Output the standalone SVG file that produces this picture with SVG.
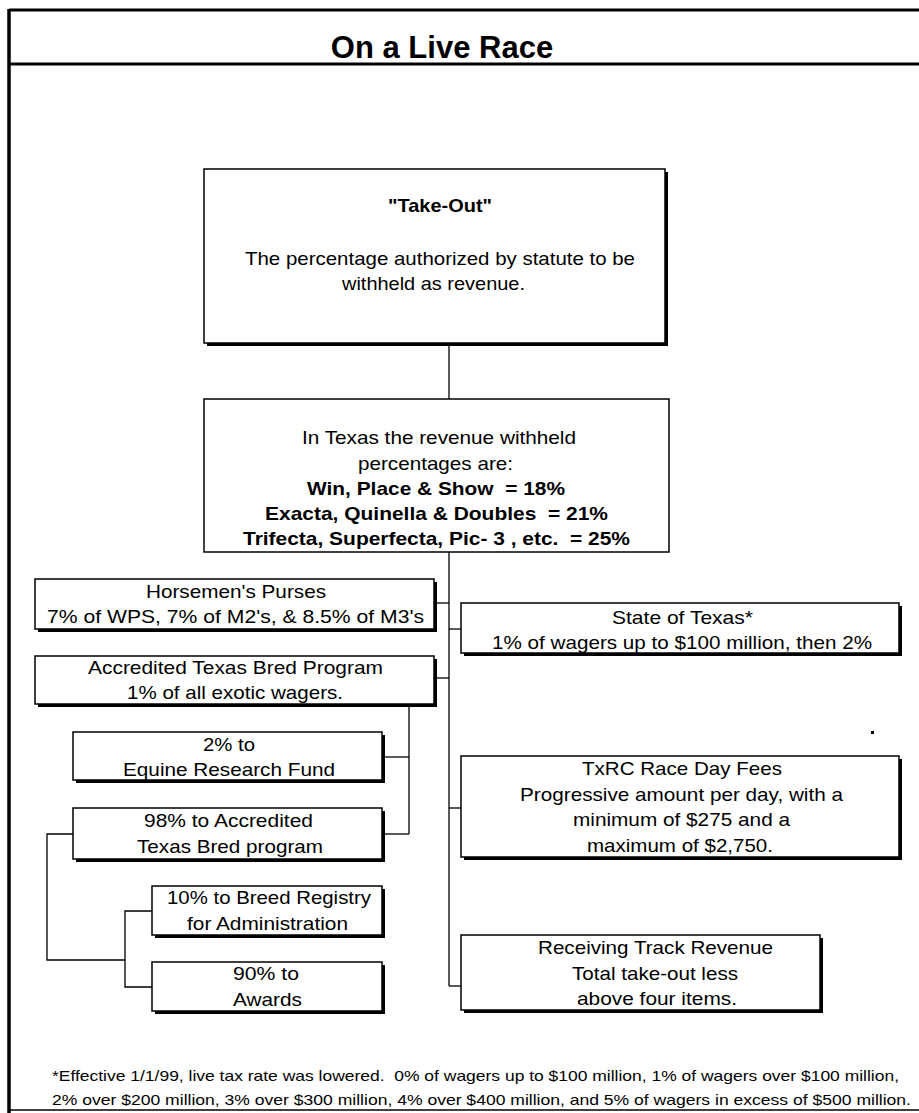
<svg xmlns="http://www.w3.org/2000/svg" width="919" height="1113" viewBox="0 0 919 1113">
<style>
  text { font-family: "Liberation Sans", Arial, sans-serif; font-size: 19px; fill: #000; text-anchor: middle; }
  .b { font-weight: bold; }
  .title { font-size: 31px; font-weight: bold; }
  .foot { font-size: 14.5px; text-anchor: start; }
  .box { fill: #fff; stroke: #000; stroke-width: 1.5; }
  .sh { fill: #000; }
  .frame { stroke: #000; fill: none; }
  .conn line, .conn polyline { stroke: #000; stroke-width: 1.3; fill: none; }
</style>
<rect width="919" height="1113" fill="#fff"/>
<g id="frame">
  <line class="frame" x1="9" y1="10" x2="919" y2="10" stroke-width="3"/>
  <line class="frame" x1="9" y1="9" x2="9" y2="1113" stroke-width="3.5"/>
  <line class="frame" x1="9" y1="64" x2="919" y2="64" stroke-width="3"/>
  <line class="frame" x1="9" y1="1110" x2="919" y2="1110" stroke-width="1.5"/>
  <text class="title" x="442" y="58">On a Live Race</text>
</g>
<g class="conn" id="connectors">
  <line x1="449" y1="345" x2="449" y2="399"/>
  <line x1="449" y1="552" x2="449" y2="986"/>
  <line x1="437" y1="603" x2="449" y2="603"/>
  <line x1="449" y1="629" x2="461" y2="629"/>
  <line x1="437" y1="678" x2="449" y2="678"/>
  <line x1="449" y1="808" x2="461" y2="808"/>
  <line x1="449" y1="986" x2="461" y2="986"/>
  <line x1="409" y1="707" x2="409" y2="834"/>
  <line x1="385" y1="757" x2="409" y2="757"/>
  <line x1="385" y1="834" x2="409" y2="834"/>
  <polyline points="73,834 47,834 47,960 125,960"/>
  <polyline points="152,911 125,911 125,987 152,987"/>
</g>
<g id="takeout">
  <rect class="sh" x="207" y="172" width="461" height="174"/>
  <rect class="box" x="204" y="169" width="461" height="174"/>
  <text class="b" x="440" y="212" textLength="104" lengthAdjust="spacingAndGlyphs">"Take-Out"</text>
  <text x="440" y="265" textLength="390" lengthAdjust="spacingAndGlyphs">The percentage authorized by statute to be</text>
  <text x="433.5" y="290" textLength="183" lengthAdjust="spacingAndGlyphs">withheld as revenue.</text>
</g>
<g id="texas">
  <rect class="box" x="204" y="399" width="465" height="153"/>
  <text x="439" y="444" textLength="274" lengthAdjust="spacingAndGlyphs">In Texas the revenue withheld</text>
  <text x="435.5" y="470" textLength="155" lengthAdjust="spacingAndGlyphs">percentages are:</text>
  <text class="b" x="436" y="495" textLength="258" lengthAdjust="spacingAndGlyphs" xml:space="preserve">Win, Place &amp; Show  = 18%</text>
  <text class="b" x="436.5" y="520" textLength="343" lengthAdjust="spacingAndGlyphs" xml:space="preserve">Exacta, Quinella &amp; Doubles  = 21%</text>
  <text class="b" x="436.5" y="545" textLength="387" lengthAdjust="spacingAndGlyphs" xml:space="preserve">Trifecta, Superfecta, Pic- 3 , etc.  = 25%</text>
</g>
<g id="horsemen">
  <rect class="sh" x="38" y="582" width="399" height="50"/>
  <rect class="box" x="35" y="579" width="399" height="50"/>
  <text x="236" y="598" textLength="180" lengthAdjust="spacingAndGlyphs">Horsemen's Purses</text>
  <text x="235.5" y="623" textLength="377" lengthAdjust="spacingAndGlyphs">7% of WPS, 7% of M2's, &amp; 8.5% of M3's</text>
</g>
<g id="accredited">
  <rect class="sh" x="38" y="659" width="399" height="48"/>
  <rect class="box" x="35" y="656" width="399" height="48"/>
  <text x="235.5" y="674" textLength="295" lengthAdjust="spacingAndGlyphs">Accredited Texas Bred Program</text>
  <text x="235" y="699" textLength="216" lengthAdjust="spacingAndGlyphs">1% of all exotic wagers.</text>
</g>
<g id="equine">
  <rect class="sh" x="76" y="735" width="309" height="48"/>
  <rect class="box" x="73" y="732" width="309" height="48"/>
  <text x="229" y="751" textLength="52" lengthAdjust="spacingAndGlyphs">2% to</text>
  <text x="229" y="776" textLength="212" lengthAdjust="spacingAndGlyphs">Equine Research Fund</text>
</g>
<g id="accredited-program">
  <rect class="sh" x="76" y="811" width="309" height="51"/>
  <rect class="box" x="73" y="808" width="309" height="51"/>
  <text x="228.5" y="827" textLength="169" lengthAdjust="spacingAndGlyphs">98% to Accredited</text>
  <text x="230" y="853" textLength="186" lengthAdjust="spacingAndGlyphs">Texas Bred program</text>
</g>
<g id="breed-registry">
  <rect class="sh" x="155" y="889" width="230" height="49"/>
  <rect class="box" x="152" y="886" width="230" height="49"/>
  <text x="269" y="904" textLength="204" lengthAdjust="spacingAndGlyphs">10% to Breed Registry</text>
  <text x="267.5" y="930" textLength="161" lengthAdjust="spacingAndGlyphs">for Administration</text>
</g>
<g id="awards">
  <rect class="sh" x="155" y="965" width="230" height="49"/>
  <rect class="box" x="152" y="962" width="230" height="49"/>
  <text x="266" y="980" textLength="66" lengthAdjust="spacingAndGlyphs">90% to</text>
  <text x="267.5" y="1006" textLength="69" lengthAdjust="spacingAndGlyphs">Awards</text>
</g>
<g id="state">
  <rect class="sh" x="464" y="606" width="438" height="50"/>
  <rect class="box" x="461" y="603" width="438" height="50"/>
  <text x="682.5" y="624" textLength="141" lengthAdjust="spacingAndGlyphs">State of Texas*</text>
  <text x="682" y="649" textLength="380" lengthAdjust="spacingAndGlyphs">1% of wagers up to $100 million, then 2%</text>
</g>
<g id="txrc">
  <rect class="sh" x="464" y="759" width="438" height="101"/>
  <rect class="box" x="461" y="756" width="438" height="101"/>
  <text x="682" y="775" textLength="200" lengthAdjust="spacingAndGlyphs">TxRC Race Day Fees</text>
  <text x="681.5" y="801" textLength="323" lengthAdjust="spacingAndGlyphs">Progressive amount per day, with a</text>
  <text x="681.5" y="826" textLength="217" lengthAdjust="spacingAndGlyphs">minimum of $275 and a</text>
  <text x="680" y="852" textLength="186" lengthAdjust="spacingAndGlyphs">maximum of $2,750.</text>
</g>
<g id="receiving">
  <rect class="sh" x="464" y="938" width="359" height="75"/>
  <rect class="box" x="461" y="935" width="359" height="75"/>
  <text x="655.5" y="954" textLength="235" lengthAdjust="spacingAndGlyphs">Receiving Track Revenue</text>
  <text x="655" y="980" textLength="166" lengthAdjust="spacingAndGlyphs">Total take-out less</text>
  <text x="657" y="1005" textLength="160" lengthAdjust="spacingAndGlyphs">above four items.</text>
</g>
<rect x="871" y="731" width="3" height="3" fill="#000"/>
<g id="footnote">
  <text class="foot" x="52" y="1081" textLength="847" lengthAdjust="spacingAndGlyphs" xml:space="preserve">*Effective 1/1/99, live tax rate was lowered.  0% of wagers up to $100 million, 1% of wagers over $100 million,</text>
  <text class="foot" x="52" y="1105" textLength="859" lengthAdjust="spacingAndGlyphs">2% over $200 million, 3% over $300 million, 4% over $400 million, and 5% of wagers in excess of $500 million.</text>
</g>
</svg>
